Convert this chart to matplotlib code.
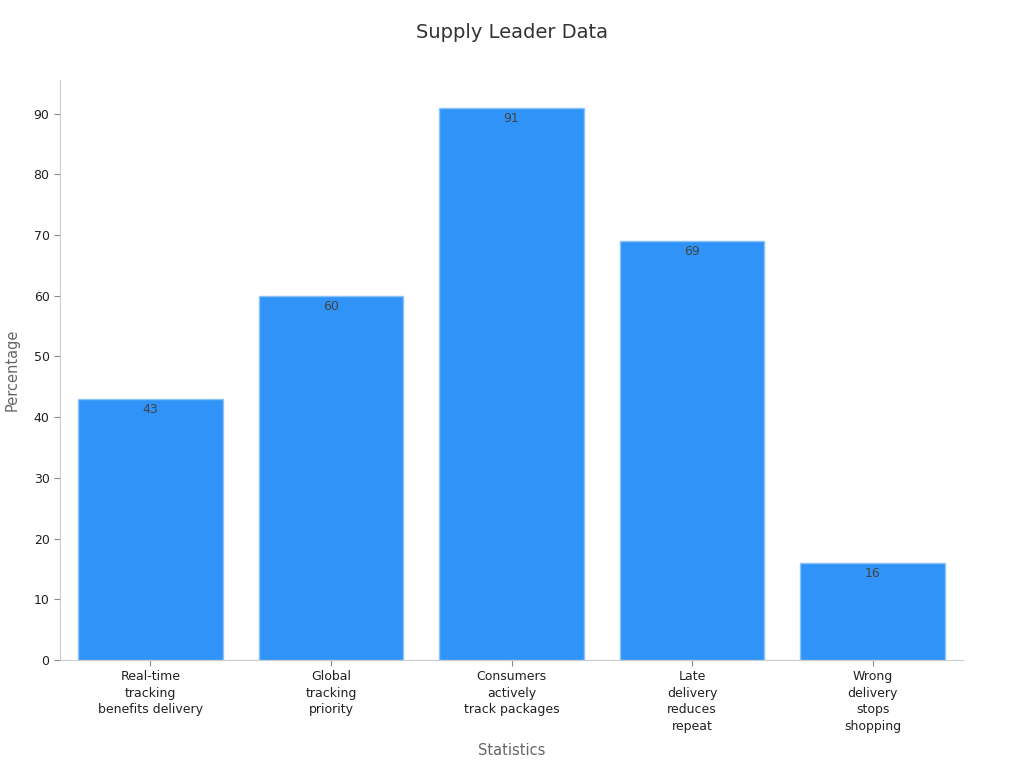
import matplotlib
matplotlib.use("Agg")
import matplotlib.pyplot as plt

# data
categories = [
    "Real-time\ntracking\nbenefits delivery",
    "Global\ntracking\npriority",
    "Consumers\nactively\ntrack packages",
    "Late\ndelivery\nreduces\nrepeat",
    "Wrong\ndelivery\nstops\nshopping",
]
values = [43, 60, 91, 69, 16]
y_ticks = [0, 10, 20, 30, 40, 50, 60, 70, 80, 90]

fig = plt.figure(figsize=(10.24, 7.68), dpi=100)
ax = fig.add_axes([60 / 1024, 108 / 768, 903 / 1024, 580 / 768])

x = range(len(categories))
bars = ax.bar(x, values, width=0.8, color="#2f93f7", edgecolor="#8cc3f7", linewidth=1)

for b, v in zip(bars, values):
    ax.annotate(str(v), (b.get_x() + b.get_width() / 2, v), xytext=(0, -3),
                textcoords="offset points", ha="center", va="top",
                fontsize=9, color="#444444")

ax.set_xlim(-0.5, len(categories) - 0.5)
ax.set_ylim(0, max(values) * 1.05)
ax.set_yticks(y_ticks)
ax.set_xticks(list(x))
ax.set_xticklabels(categories, fontsize=9, color="#222222", linespacing=1.35)
ax.tick_params(axis="y", labelsize=9, labelcolor="#222222", color="#888888", length=4)
ax.tick_params(axis="x", color="#888888", length=4)

for s in ["top", "right"]:
    ax.spines[s].set_visible(False)
for s in ["left", "bottom"]:
    ax.spines[s].set_color("#cccccc")

ax.set_xlabel("Statistics", fontsize=10.5, color="#666666", labelpad=7)
ax.set_ylabel("Percentage", fontsize=10.5, color="#666666", labelpad=10)
fig.text(0.5, 1 - 33 / 768, "Supply Leader Data", ha="center", va="center",
         fontsize=14, color="#333333")

fig.savefig("out.png", dpi=100)
